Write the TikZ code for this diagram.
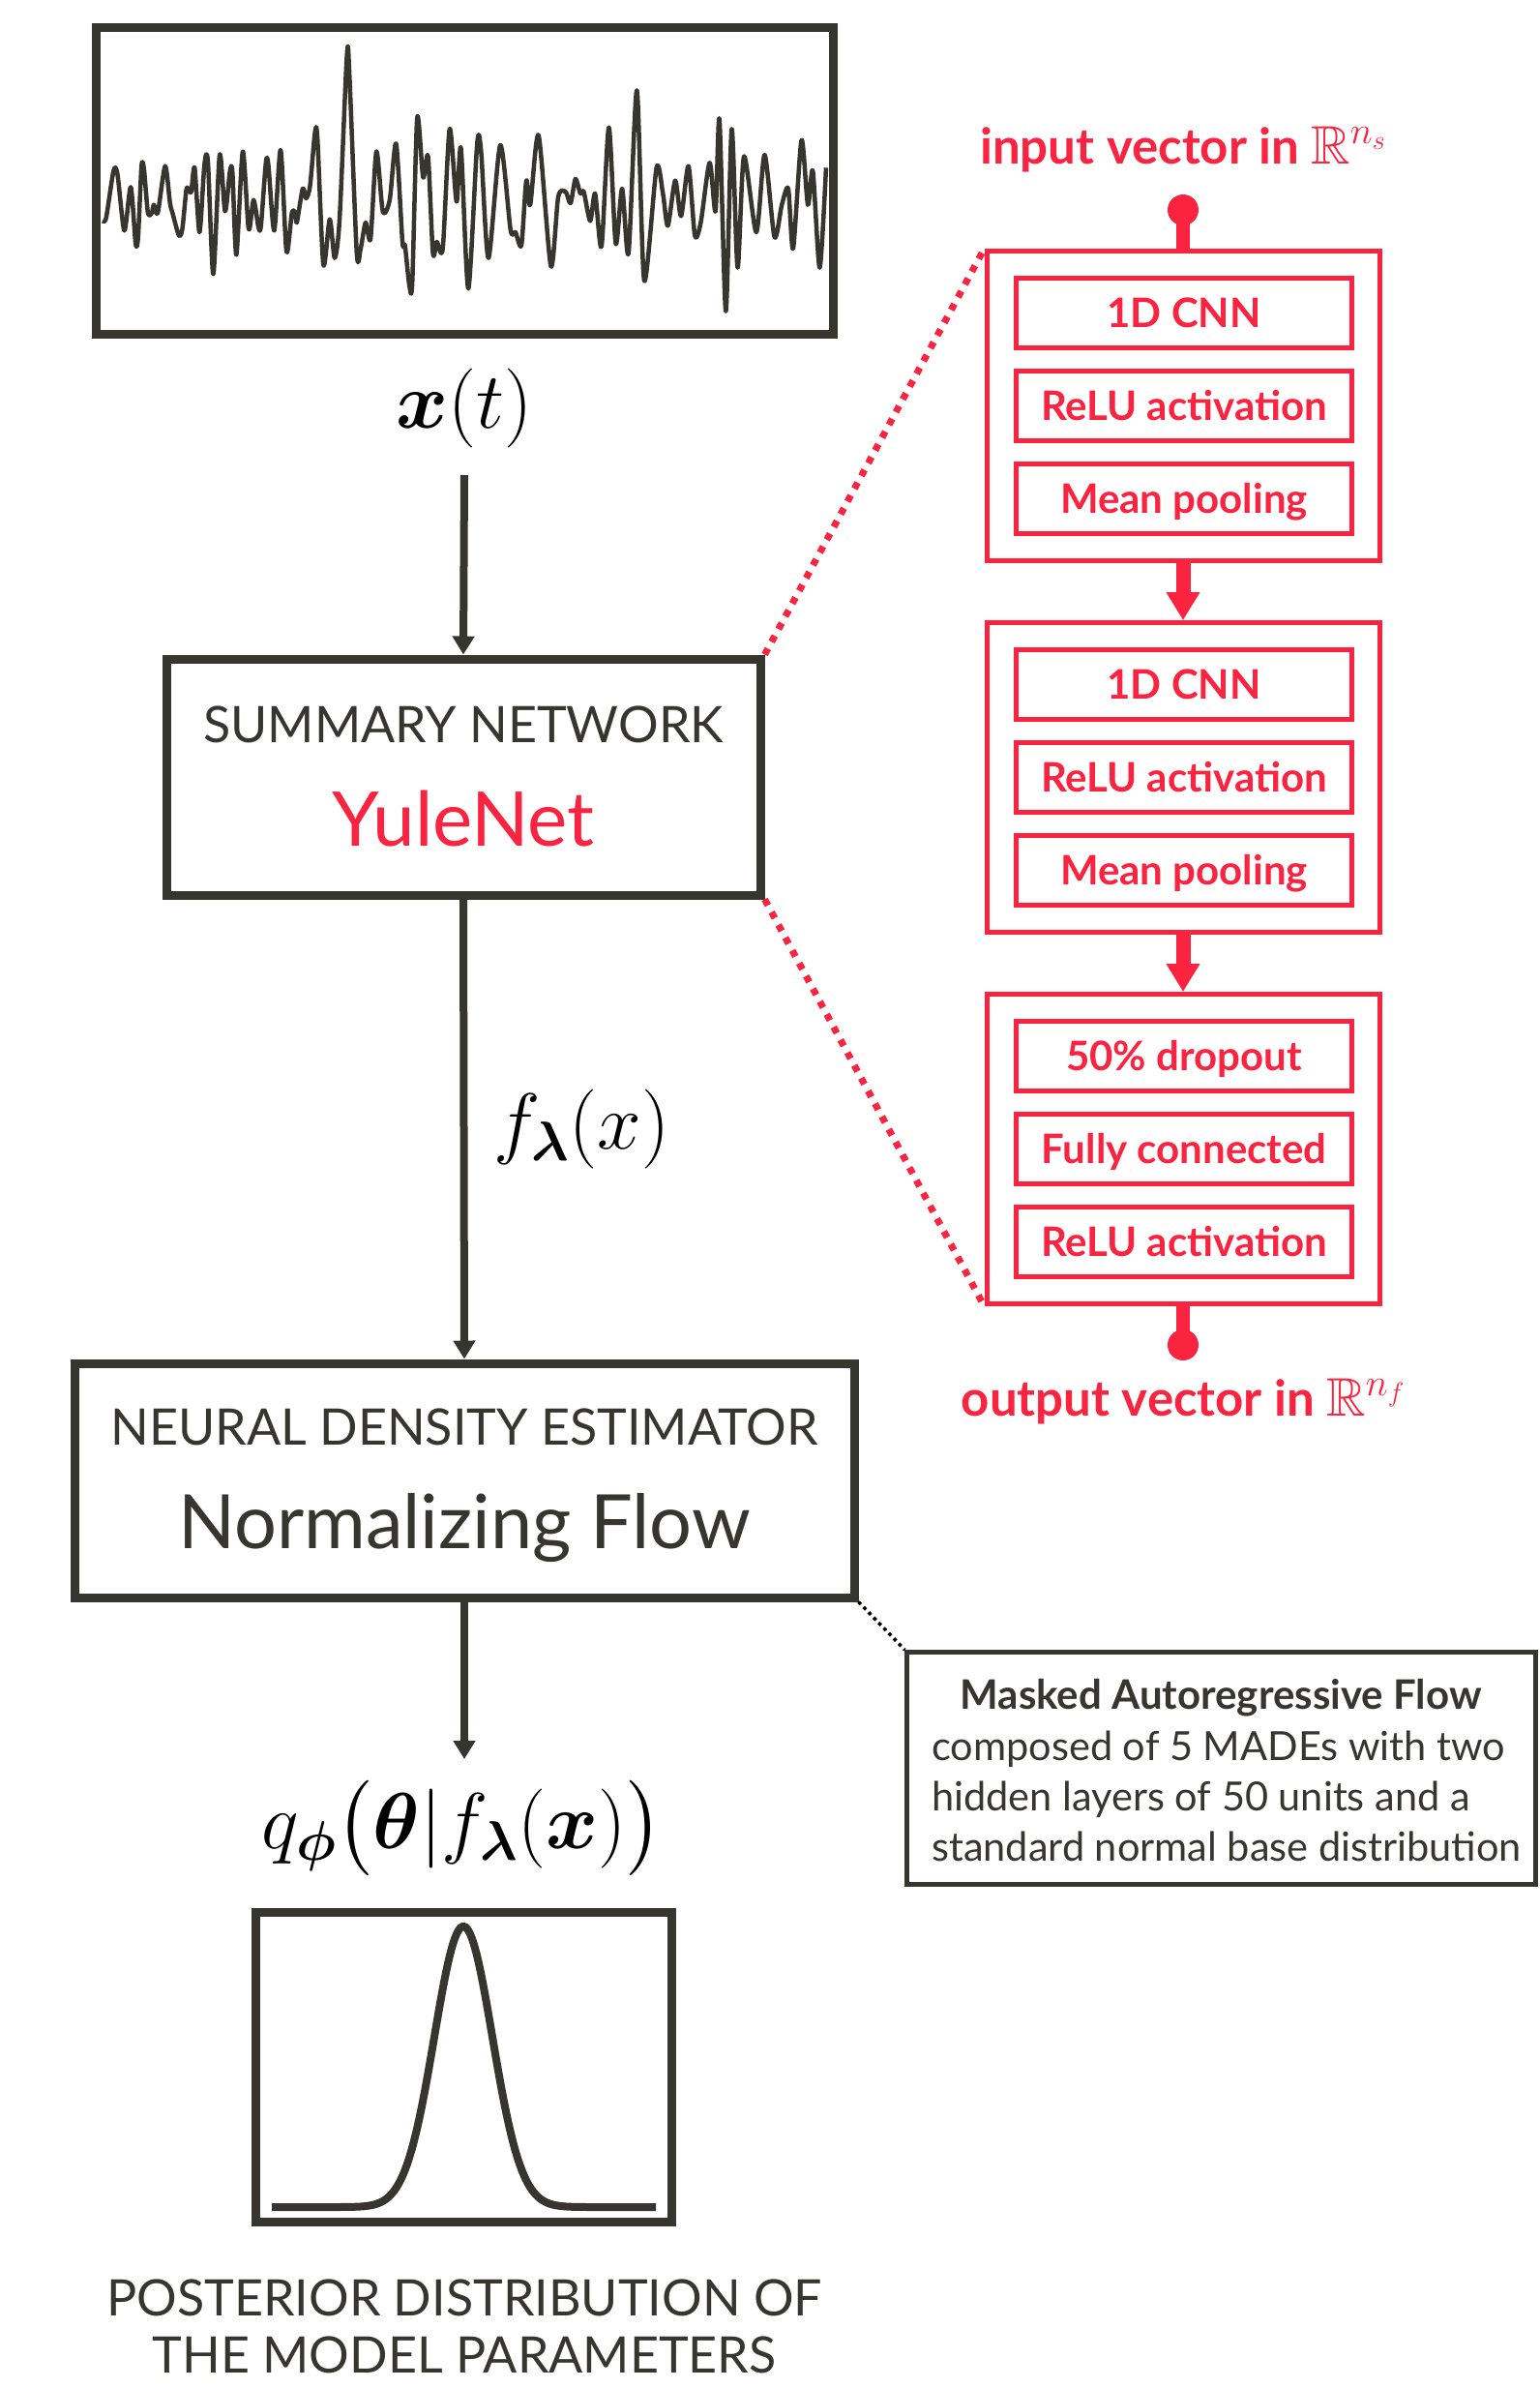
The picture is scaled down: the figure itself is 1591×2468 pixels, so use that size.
\RequirePackage{fix-cm}
\documentclass[tikz,border=0pt]{standalone}
\usepackage{amsmath,amssymb,bm}
\usepackage[no-math]{fontspec}
\setmainfont{Lato}
\usetikzlibrary{arrows.meta}

\definecolor{ink}{RGB}{54,54,47}
\definecolor{accent}{RGB}{250,36,64}

\newcommand{\fsz}[2]{\fontsize{#1}{#2}\selectfont}

\tikzset{
  darkbox/.style={draw=ink, line width=9pt, inner sep=0pt},
  flowarrow/.style={draw=ink, line width=8pt, -{Triangle[width=22pt,length=19pt]}},
  layerblock/.style={draw=accent, line width=5pt, inner sep=0pt, minimum width=406pt, minimum height=320pt},
  layer/.style={draw=accent, line width=5pt, inner sep=0pt, minimum width=347pt, minimum height=72pt,
    text=accent, font=\fsz{42}{50}\bfseries, text height=30pt, text depth=0pt},
  redarrow/.style={draw=accent, line width=15pt, -{Triangle[width=33pt,length=29pt]}},
  port/.style={circle, fill=accent, inner sep=0pt, minimum size=32pt},
  zoomline/.style={draw=accent, line width=7pt, dash pattern=on 7pt off 8pt},
  noteline/.style={draw=black, line width=3.5pt, dash pattern=on 3.5pt off 4pt},
  heading/.style={text=ink, font=\fsz{52}{59}, anchor=base, inner sep=0pt},
  mathlabel/.style={text=black, font=\fsz{82}{96}, inner sep=0pt},
  redlabel/.style={text=accent, font=\fsz{51}{58}\bfseries, anchor=base, inner sep=0pt},
  notetext/.style={text=ink, font=\fsz{41.5}{52}, inner sep=0pt},
}

\begin{document}
\begin{tikzpicture}[x=1pt, y=-1pt]
\fill[white] (0,0) rectangle (1591,2468);
\useasboundingbox (0,0) rectangle (1591,2468);

% ---------- main column ----------
\node[darkbox, minimum width=762pt, minimum height=317pt] (signal) at (480,186.5) {};
\begin{scope}[shift={(81.8,10)}, xscale=0.508, yscale=0.3333]
\draw[ink, line width=4.5pt, line join=round] plot[smooth, tension=0.45] coordinates {
(48,655) (55,645) (70,500) (78,510) (92,685) (105,550) (115,725) (120,705) (127,485) (132,495)
(140,630) (148,630) (152,605) (160,630) (175,485) (185,600) (190,630) (203,700) (210,680) (218,560)
(222,555) (228,565) (235,490) (245,690) (255,480) (262,470) (273,820) (286,450) (297,625) (307,500)
(312,505) (320,760) (333,440) (345,680) (355,590) (365,675) (370,670) (380,475) (385,480) (397,685)
(410,435) (422,750) (433,630) (440,630) (443,660) (455,555) (462,585) (470,545) (480,380) (485,400)
(497,790) (510,650) (520,770) (530,650) (545,140) (550,200) (565,755) (573,740) (583,660) (593,710)
(605,440) (618,625) (632,590) (645,415) (658,720) (663,730) (672,855) (678,845) (688,335) (700,520)
(710,455) (720,755) (728,720) (740,740) (754,370) (768,595) (777,430) (792,865) (810,415) (818,440)
(833,770) (857,420) (878,683) (888,690) (900,730) (910,530) (918,605) (935,390) (960,795) (975,580)
(990,565) (1000,600) (1010,525) (1020,570) (1027,565) (1040,655) (1050,570) (1063,735) (1078,365) (1092,725)
(1105,555) (1118,755) (1135,250) (1150,840) (1175,490) (1188,570) (1198,670) (1213,530) (1225,640) (1240,485)
(1253,700) (1265,660) (1283,475) (1295,625) (1303,340) (1316,935) (1328,370) (1340,800) (1353,455) (1378,690)
(1395,450) (1415,705) (1430,605) (1443,555) (1453,740) (1470,405) (1483,605) (1493,500) (1507,800) (1520,490)};
\end{scope}

\node[mathlabel, anchor=base] (xt) at (480,442) {$\bm{x}(t)$};
\coordinate (xtail) at (480,491);

\node[darkbox, minimum width=614pt, minimum height=244pt] (summary) at (479,803) {};
\node[heading] (sumtitle) at (479,767) {SUMMARY NETWORK};
\node[heading, text=accent, font=\fsz{78}{90}] (sumname) at (479,874) {YuleNet};

\node[darkbox, minimum width=806pt, minimum height=242pt] (nde) at (480,1530) {};
\node[heading] (ndetitle) at (480,1493) {NEURAL DENSITY ESTIMATOR};
\node[heading, font=\fsz{77.5}{90}] (ndename) at (480,1600) {Normalizing Flow};

\node[mathlabel, anchor=base west] (flab) at (510,1187) {$f_{\bm{\lambda}}(x)$};
\node[mathlabel, anchor=base] (qlab) at (478,1910) {$q_{\bm{\phi}}\big(\bm{\theta}|f_{\bm{\lambda}}(\bm{x})\big)$};
\coordinate (qtip) at (480,1818);

\node[darkbox, minimum width=430pt, minimum height=320pt] (post) at (479,2136) {};
\draw[ink, line width=8pt] plot[domain=281:678, samples=241] (\x, {2281 - 290*exp(-((\x-479)/30)^2/2)});

\node[heading, align=center] (posttext) at (480,2452) {POSTERIOR DISTRIBUTION OF\\THE MODEL PARAMETERS};

\draw[flowarrow] (xtail) -- (summary.north);
\draw[flowarrow] (summary.south) -- (nde.north);
\draw[flowarrow] (nde.south) -- (qtip);

% ---------- YuleNet layers ----------
\node[redlabel] (inlab) at (1223,169) {input vector in {\fsz{56}{60}$\mathbb{R}^{n_s}$}};
\node[port] (indot) at (1223,217) {};

\node[layerblock] (blk1) at (1223,419.5) {};
\node[layer] (l11) at (1224,323.5) {1D CNN};
\node[layer] (l12) at (1224,419.5) {ReLU activation};
\node[layer] (l13) at (1224,515.5) {Mean pooling};

\node[layerblock] (blk2) at (1223,803.5) {};
\node[layer] (l21) at (1224,707.5) {1D CNN};
\node[layer] (l22) at (1224,803.5) {ReLU activation};
\node[layer] (l23) at (1224,899.5) {Mean pooling};

\node[layerblock] (blk3) at (1223,1187.5) {};
\node[layer] (l31) at (1224,1091.5) {50\% dropout};
\node[layer] (l32) at (1224,1187.5) {Fully connected};
\node[layer] (l33) at (1224,1283.5) {ReLU activation};

\node[port] (outdot) at (1223,1390) {};
\node[redlabel] (outlab) at (1223,1463) {output vector in {\fsz{56}{60}$\mathbb{R}^{n_f}$}};

\draw[accent, line width=14pt] (indot.center) -- (blk1.north);
\draw[redarrow] (blk1.south) -- (blk2.north);
\draw[redarrow] (blk2.south) -- (blk3.north);
\draw[accent, line width=14pt] (blk3.south) -- (outdot.center);

\draw[zoomline] (summary.north east) -- (blk1.north west);
\draw[zoomline] (summary.south east) -- (blk3.south west);

% ---------- flow note ----------
\node[draw=ink, line width=5pt, inner sep=0pt, minimum width=650pt, minimum height=240pt] (maf) at (1262.75,1827.5) {};
\node[notetext, anchor=base, font=\fsz{42}{52}\bfseries] (maftitle) at (1262,1766) {Masked Autoregressive Flow};
\node[notetext, anchor=base west] (maf1) at (963,1819) {composed of 5 MADEs with two};
\node[notetext, anchor=base west] (maf2) at (963,1871) {hidden layers of 50 units and a};
\node[notetext, anchor=base west] (maf3) at (963,1923) {standard normal base distribution};
\draw[noteline] (nde.south east) -- (maf.north west);
\end{tikzpicture}
\end{document}
